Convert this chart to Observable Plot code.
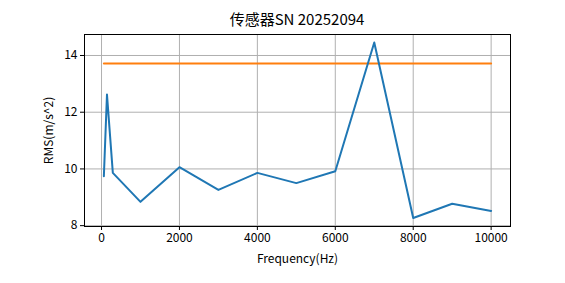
<!DOCTYPE html>
<html>
<head>
<meta charset="utf-8">
<script src="https://cdn.jsdelivr.net/npm/d3@7"></script>
<script src="https://cdn.jsdelivr.net/npm/@observablehq/plot@0.6"></script>
<style>
  html, body { margin: 0; padding: 0; background: #fff; }
  #wrap { position: relative; width: 565px; height: 283px; }
  #title { position: absolute; left: 84px; width: 426px; top: 9px; text-align: center;
           font-family: "Noto Sans CJK SC", sans-serif; font-size: 15px; line-height: 20px; color: #000; }
  svg { display: block; }
</style>
</head>
<body>
<div id="wrap">
  <div id="title">传感器SN 20252094</div>
</div>
<script>
const title = "传感器SN 20252094";
const frequency = [60, 140, 290, 1000, 2000, 3000, 4000, 5000, 6000, 7000, 8000, 9000, 10000];
const rms = [9.74, 12.62, 9.86, 8.84, 10.06, 9.26, 9.86, 9.50, 9.92, 14.46, 8.27, 8.77, 8.52];
const thresholdValue = 13.72;
const xTicks = [0, 2000, 4000, 6000, 8000, 10000];
const yTicks = [8, 10, 12, 14];
const xLabel = "Frequency(Hz)";
const yLabel = "RMS(m/s^2)";

document.getElementById("title").textContent = title;

const data = frequency.map((f, i) => ({f, v: rms[i]}));
const thr = [
  {f: frequency[0], v: thresholdValue},
  {f: frequency[frequency.length - 1], v: thresholdValue}
];

const font = '"Noto Sans CJK SC", sans-serif';
const fmt = d => String(d);
const chart = Plot.plot({
  width: 565,
  height: 283,
  marginLeft: 84,
  marginRight: 55,
  marginTop: 34,
  marginBottom: 57,
  style: {fontFamily: font, fontSize: "12px", color: "#000", background: "#fff"},
  x: {domain: [-437, 10497]},
  y: {domain: [7.97, 14.74]},
  marks: [
    Plot.gridX(xTicks, {stroke: "#b0b0b0", strokeOpacity: 1, strokeWidth: 1}),
    Plot.gridY(yTicks, {stroke: "#b0b0b0", strokeOpacity: 1, strokeWidth: 1}),
    Plot.line(thr, {x: "f", y: "v", stroke: "#ff7f0e", strokeWidth: 2}),
    Plot.line(data, {x: "f", y: "v", stroke: "#1f77b4", strokeWidth: 2}),
    Plot.frame({stroke: "#000", strokeWidth: 1}),
    Plot.axisX(xTicks, {tickSize: 4, tickPadding: 3, fontSize: 12, tickFormat: fmt, label: xLabel, labelAnchor: "center", labelArrow: "none", labelOffset: 36}),
    Plot.axisY(yTicks, {tickSize: 4, tickPadding: 3, fontSize: 12, tickFormat: fmt, label: yLabel, labelAnchor: "center", labelArrow: "none", labelOffset: 40})
  ]
});
document.getElementById("wrap").appendChild(chart);
</script>
</body>
</html>
